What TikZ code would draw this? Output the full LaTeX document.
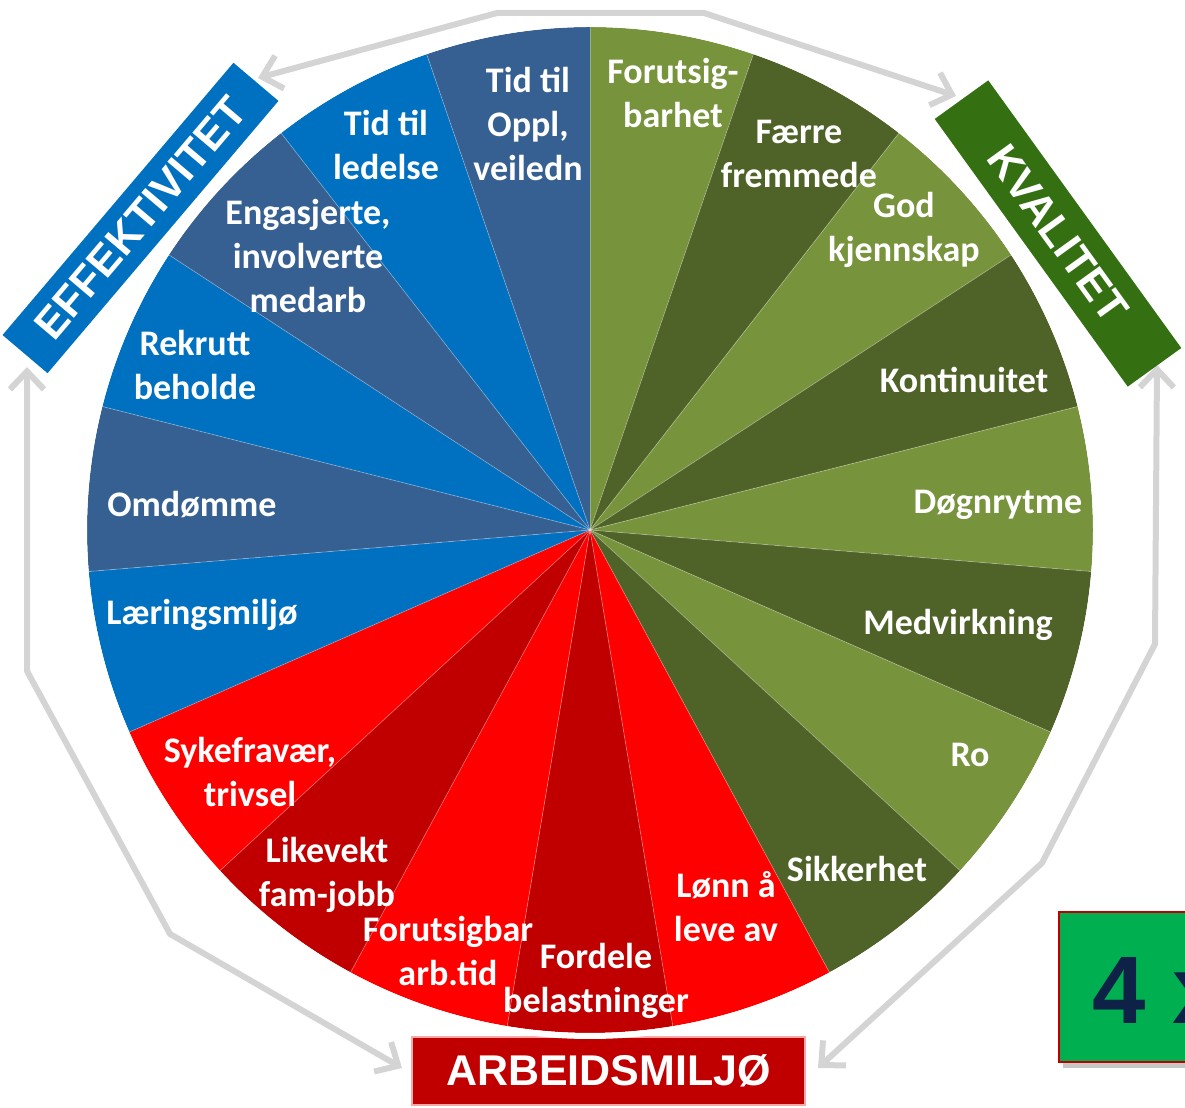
\documentclass[tikz,border=0pt]{standalone}
\usepackage{fontspec}
\setmainfont{Carlito}
\newfontfamily\arialfont{Liberation Sans}
\usetikzlibrary{arrows.meta}
\definecolor{lgreen}{RGB}{119,147,60}
\definecolor{dgreen}{RGB}{79,98,40}
\definecolor{bblue}{RGB}{0,112,192}
\definecolor{dblue}{RGB}{55,96,146}
\definecolor{bred}{RGB}{255,0,0}
\definecolor{dred}{RGB}{192,0,0}
\definecolor{kgreen}{RGB}{52,112,18}
\definecolor{arrgray}{RGB}{212,212,212}
\definecolor{boxgreen}{RGB}{0,176,80}
\definecolor{navytext}{RGB}{14,34,72}
\begin{document}
\begin{tikzpicture}[x=0.5pt,y=0.5pt,
  lbl/.style={text=white, font=\fontsize{18pt}{22pt}\selectfont\bfseries, align=center, inner sep=0pt},
  cat/.style={font=\arialfont\bfseries\fontsize{21.5pt}{24pt}\selectfont, text=white, inner sep=0pt, align=center},
  garrow/.style={draw=arrgray, line width=3pt, {Straight Barb[length=9pt,width=17pt]}-{Straight Barb[length=9pt,width=17pt]}}
]
\useasboundingbox (0,0) rectangle (1185,1108);
\clip (0,0) rectangle (1185,1108);

% grey cycle arrows
\coordinate (tL) at (258,1030);
\coordinate (t1) at (497,1095);
\coordinate (t2) at (704,1095);
\coordinate (tR) at (956,1012);
\coordinate (rT) at (1157,743);
\coordinate (r1) at (1155,464);
\coordinate (r2) at (1042,245);
\coordinate (rB) at (818,40);
\coordinate (lT) at (27,741);
\coordinate (l1) at (27,437);
\coordinate (l2) at (170,174);
\coordinate (lB) at (402,40);
\draw[garrow] (tL) -- (t1) -- (t2) -- (tR);
\draw[garrow] (rT) -- (r1) -- (r2) -- (rB);
\draw[garrow] (lT) -- (l1) -- (l2) -- (lB);

% category boxes
\node[cat, fill=bblue, minimum width=178.5pt, minimum height=29.5pt, rotate=49.7] (eff) at (140.5,890) {EFFEKTIVITET};
\node[cat, fill=kgreen, minimum width=165pt, minimum height=33pt, rotate=-54.2] (kval) at (1058,874.5) {KVALITET};
\node[cat, fill=dred, draw=red!35!white, line width=0.6pt, minimum width=196.5pt, minimum height=34pt] (arb) at (608.5,37) {ARBEIDSMILJØ};

% "4 x" box
\fill[black, opacity=.22] (1063,40) rectangle (1265,190);
\node[draw=dred, line width=1pt, fill=boxgreen, minimum width=101pt, minimum height=75pt, anchor=south west, inner sep=0pt] (four) at (1058,45) {};
\node[font=\arialfont\bfseries\fontsize{48pt}{50pt}\selectfont, text=navytext, anchor=base west, inner sep=0pt] (fourx) at (1092,84) {4 x};

% pie
\coordinate (C) at (590,578);
\foreach \c [count=\i from 0] in {lgreen,dgreen,lgreen,dgreen,lgreen,dgreen,lgreen,dgreen,bred,dred,bred,dred,bred,bblue,dblue,bblue,dblue,bblue,dblue}{
  \pgfmathsetmacro\sa{90-\i*360/19}
  \pgfmathsetmacro\ea{90-(\i+1)*360/19}
  \fill[\c] (C) -- ++(\sa:503) arc[start angle=\sa, end angle=\ea, radius=503] -- cycle;
}
\foreach \i in {0,...,18}{
  \draw[white, opacity=.3, line width=.4pt] (C) -- ++({90-\i*360/19}:503);
}
\draw[white, line width=3pt] (C) circle[radius=506];

% labels
\node[lbl] (l01) at (673,1015) {Forutsig-\\barhet};
\node[lbl] (l02) at (799,954) {Færre\\fremmede};
\node[lbl] (l03) at (904,878) {God\\kjennskap};
\node[lbl] (l04) at (964,728) {Kontinuitet};
\node[lbl] (l05) at (998,603) {Døgnrytme};
\node[lbl] (l06) at (958,483) {Medvirkning};
\node[lbl] (l07) at (970,353) {Ro};
\node[lbl] (l08) at (857,239) {Sikkerhet};
\node[lbl] (l09) at (726,201) {Lønn å\\leve av};
\node[lbl] (l10) at (596,127) {Fordele\\belastninger};
\node[lbl] (l11) at (448,157) {Forutsigbar\\arb.tid};
\node[lbl] (l12) at (327,233) {Likevekt\\fam-jobb};
\node[lbl] (l13) at (250,336) {Sykefravær,\\trivsel};
\node[lbl] (l14) at (202,493) {Læringsmiljø};
\node[lbl] (l15) at (192,603) {Omdømme};
\node[lbl] (l16) at (195,743) {Rekrutt\\beholde};
\node[lbl] (l17) at (308,852) {Engasjerte,\\involverte\\medarb};
\node[lbl] (l18) at (386,963) {Tid til\\ledelse};
\node[lbl] (l19) at (528,984) {Tid til\\Oppl,\\veiledn};
\end{tikzpicture}
\end{document}
